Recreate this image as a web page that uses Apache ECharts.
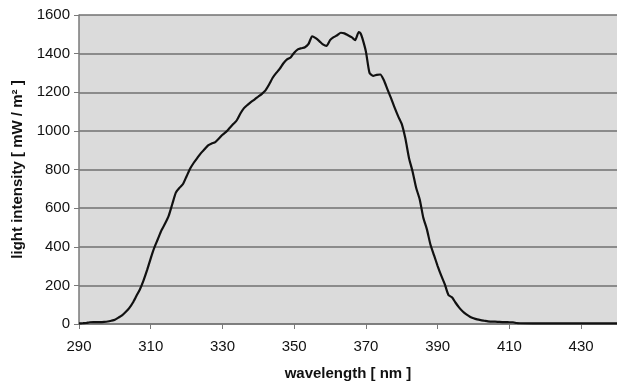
<!DOCTYPE html>
<html>
<head>
<meta charset="utf-8">
<script src="https://cdn.jsdelivr.net/npm/echarts@6/dist/echarts.min.js"></script>
<style>
  html, body { margin: 0; padding: 0; background: #fff; }
  #chart { width: 617px; height: 386px; }
</style>
</head>
<body>
<div id="chart"></div>
<script>
// wavelength in nm
const wavelengths = [
  290, 291, 292, 293, 294, 295, 296, 297, 298, 299,
  300, 301, 302, 303, 304, 305, 306, 307, 308, 309,
  310, 311, 312, 313, 314, 315, 316, 317, 318, 319,
  320, 321, 322, 323, 324, 325, 326, 327, 328, 329,
  330, 331, 332, 333, 334, 335, 336, 337, 338, 339,
  340, 341, 342, 343, 344, 345, 346, 347, 348, 349,
  350, 351, 352, 353, 354, 355, 356, 357, 358, 359,
  360, 361, 362, 363, 364, 365, 366, 367, 368, 368.5, 369,
  370, 371, 372, 373, 374, 375, 376, 377, 378, 379,
  380, 381, 382, 383, 384, 385, 386, 387, 388, 389,
  390, 391, 392, 393, 394, 395, 396, 397, 398, 399,
  400, 401, 402, 403, 404, 405, 406, 407, 408, 409,
  410, 411, 412, 413, 420, 430, 440
];
// light intensity in mW / m2
const intensities = [
  3, 4, 5, 9, 10, 10, 10, 11, 13, 17,
  22, 33, 45, 62, 82, 110, 145, 180, 226, 280,
  340, 395, 440, 485, 520, 560, 620, 680, 705, 725,
  765, 805, 835, 860, 885, 905, 925, 935, 942, 960,
  980, 995, 1015, 1035, 1055, 1090, 1118, 1135, 1150, 1163,
  1178, 1192, 1210, 1240, 1275, 1300, 1322, 1350, 1370, 1380,
  1405, 1422, 1428, 1433, 1450, 1490, 1480, 1465, 1448, 1440,
  1470, 1485, 1495, 1508, 1505, 1495, 1485, 1470, 1512, 1505, 1480,
  1410, 1300, 1285, 1290, 1292, 1262, 1215, 1170, 1120, 1075,
  1035, 960, 860, 790, 705, 645, 550, 490, 410, 355,
  300, 250, 205, 150, 138, 110, 85, 65, 50, 38,
  30, 24, 20, 17, 14, 12, 12, 11, 10, 10,
  9, 9, 5, 4, 3, 3, 3
];
const xTicks = [290, 310, 330, 350, 370, 390, 410, 430];

const textFont = 'Liberation Sans, Arial, sans-serif';
const chart = echarts.init(document.getElementById('chart'), null, { renderer: 'canvas' });

chart.setOption({
  animation: false,
  backgroundColor: '#ffffff',
  grid: {
    left: 79, right: 0, top: 15, bottom: 60,
    show: true,
    backgroundColor: '#dbdbdb',
    borderWidth: 0
  },
  xAxis: {
    type: 'value',
    min: 290,
    max: 440,
    name: 'wavelength [ nm ]',
    nameLocation: 'middle',
    nameGap: 42,
    nameTextStyle: { fontFamily: textFont, fontWeight: 'bold', fontSize: 15, color: '#111' },
    axisLine: { show: true, lineStyle: { color: '#7a7a7a', width: 1.5 } },
    axisTick: { show: true, length: 5, lineStyle: { color: '#7a7a7a' }, customValues: xTicks },
    axisLabel: {
      fontFamily: textFont, fontSize: 15, color: '#111', margin: 15,
      customValues: xTicks,
      formatter: v => String(v)
    },
    splitLine: { show: false }
  },
  yAxis: {
    type: 'value',
    min: 0,
    max: 1600,
    interval: 200,
    name: 'light intensity [ mW / m\u00b2 ]',
    nameLocation: 'middle',
    nameGap: 52,
    nameTextStyle: { fontFamily: textFont, fontWeight: 'bold', fontSize: 15, color: '#111' },
    axisLine: { show: true, lineStyle: { color: '#7a7a7a', width: 1.5 } },
    axisTick: { show: true, length: 5, lineStyle: { color: '#7a7a7a' } },
    axisLabel: { fontFamily: textFont, fontSize: 15, color: '#111', margin: 9, formatter: v => String(v) },
    splitLine: { show: true, lineStyle: { color: '#707070', width: 1.5 } }
  },
  series: [{
    type: 'line',
    data: wavelengths.map((w, i) => [w, intensities[i]]),
    showSymbol: false,
    smooth: 0.2,
    lineStyle: { color: '#111111', width: 2.2 }
  }]
});
</script>
</body>
</html>
